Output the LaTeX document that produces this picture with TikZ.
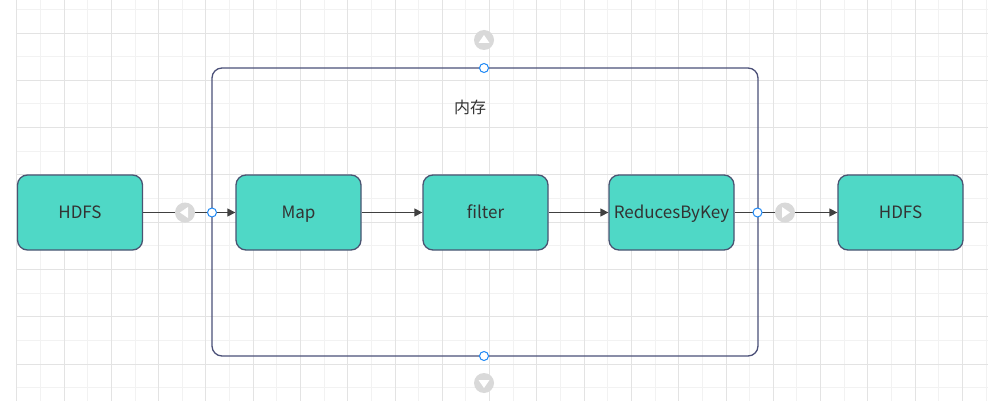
\documentclass[tikz,border=0pt]{standalone}
\usepackage{fontspec}
\setmainfont{Noto Sans CJK SC}
\usetikzlibrary{arrows.meta}

\definecolor{boxfill}{HTML}{4FD8C6}
\definecolor{boxline}{HTML}{4A5472}
\definecolor{memline}{HTML}{4B5078}
\definecolor{handle}{HTML}{1E88F5}
\definecolor{knob}{HTML}{D9D9D9}
\definecolor{gridmin}{HTML}{F2F2F2}
\definecolor{gridmaj}{HTML}{E3E3E3}

\tikzset{
  stage/.style={draw=boxline, line width=1.3pt, fill=boxfill, rounded corners=10pt,
    inner sep=0pt, minimum width=125pt, minimum height=75pt, text=black!80,
    text height=12pt, text depth=0pt, font=\fontsize{17}{19}\selectfont},
  flow/.style={draw=black!75, line width=1.3pt, -{Triangle[length=8pt,width=8pt]}},
  dot/.style={circle, draw=handle, fill=white, line width=1pt, inner sep=0pt, minimum size=9pt},
  knobc/.style={circle, fill=knob, inner sep=0pt, minimum size=20pt}
}

\begin{document}
\begin{tikzpicture}[x=1pt,y=-1pt]

\useasboundingbox[fill=white] (0,0) rectangle (988,401);

\foreach \i in {0,...,41} \draw[gridmin, line width=0.8pt] ({16.7+23.64*\i},0) -- ({16.7+23.64*\i},401);
\foreach \j in {0,...,16} \draw[gridmin, line width=0.8pt] (16.7,{9.3+23.64*\j}) -- (988,{9.3+23.64*\j});
\foreach \i in {0,2,...,40} \draw[gridmaj, line width=0.8pt] ({16.7+23.64*\i},0) -- ({16.7+23.64*\i},401);
\foreach \j in {1,3,...,15} \draw[gridmaj, line width=0.8pt] (16.7,{9.3+23.64*\j}) -- (988,{9.3+23.64*\j});

\node[draw=memline, line width=1.3pt, rounded corners=10pt, inner sep=0pt,
  minimum width=546pt, minimum height=288pt] (ram) at (485,212) {};
\node[text=black!80, font=\fontsize{16}{18}\selectfont] (memlabel) at (470,107) {内存};

\node[stage] (hdfsin) at (80,212.5) {HDFS};
\node[stage] (map) at (298.5,212.5) {Map};
\node[stage] (filter) at (485.5,212.5) {filter};
\node[stage] (reduce) at (671.5,212.5) {ReducesByKey};
\node[stage] (hdfsout) at (900.5,212.5) {HDFS};

\draw[flow] (hdfsin) -- (map);
\draw[flow] (map) -- (filter);
\draw[flow] (filter) -- (reduce);
\draw[flow] (reduce) -- (hdfsout);

\node[knobc] (kl) at (185,212.5) {};
\node[knobc] (kr) at (785,212.5) {};
\node[knobc] (kt) at (484,40) {};
\node[knobc] (kb) at (484,383) {};

\fill[white] (kl) ++(-5,0) -- ++(8,-5.5) -- ++(0,11) -- cycle;
\fill[white] (kr) ++(5,0) -- ++(-8,-5.5) -- ++(0,11) -- cycle;
\fill[white] (kt) ++(0,-5) -- ++(5.5,8) -- ++(-11,0) -- cycle;
\fill[white] (kb) ++(0,5) -- ++(5.5,-8) -- ++(-11,0) -- cycle;

\node[dot] (pl) at (212,212.5) {};
\node[dot] (pr) at (757.5,212.5) {};
\node[dot] (pt) at (484,68) {};
\node[dot] (pb) at (484,356) {};

\end{tikzpicture}
\end{document}
